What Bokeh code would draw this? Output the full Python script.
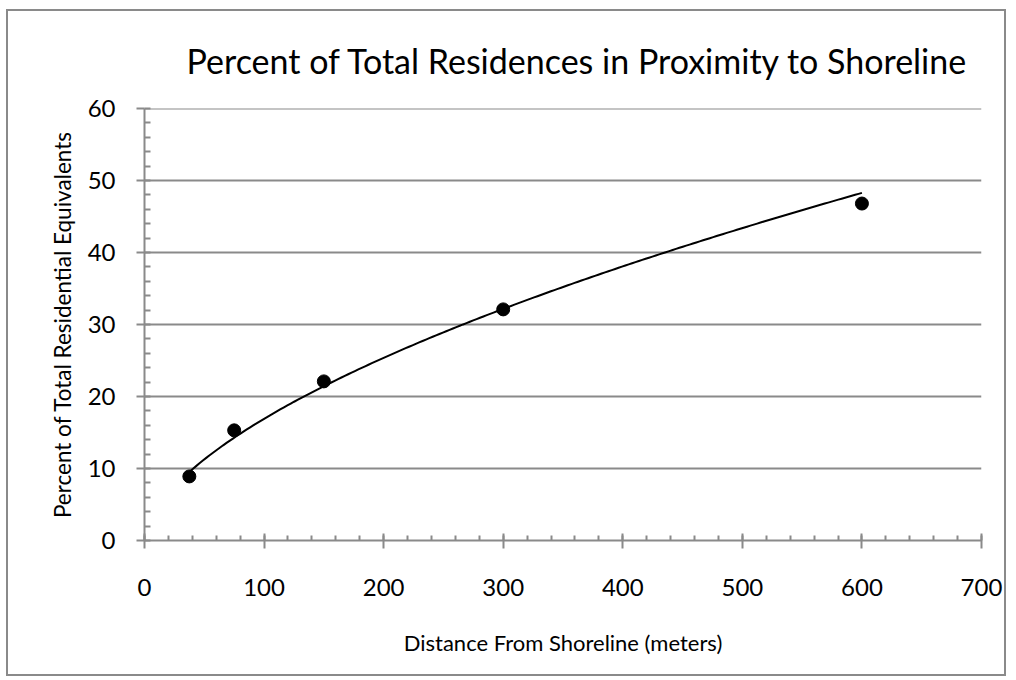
import numpy as np
from bokeh.plotting import figure
from bokeh.models import Range1d, SingleIntervalTicker, Title, Span
from bokeh.embed import file_html
from bokeh.resources import INLINE

distance_m = [37.5, 75, 150, 300, 600]
percent_res = [8.9, 15.3, 22.1, 32.1, 46.8]
y_ticks = [0, 10, 20, 30, 40, 50, 60]

title_text = "Percent of Total Residences in Proximity to Shoreline"
x_label = "Distance From Shoreline (meters)"
y_label = "Percent of Total Residential Equivalents"

# power-law trendline fitted to the data (y = a * x^b)
b, ln_a = np.polyfit(np.log(distance_m), np.log(percent_res), 1)
trend_x = np.linspace(min(distance_m), max(distance_m), 200)
trend_y = np.exp(ln_a) * trend_x ** b

FONT = "Lato"
GRAY = "#8a8a8a"

p = figure(width=1000, height=667, output_backend="svg", toolbar_location=None,
           x_range=Range1d(0, 700), y_range=Range1d(y_ticks[0], y_ticks[-1]),
           min_border_left=136, min_border_right=27, min_border_top=97, min_border_bottom=138)
p.styles = {"border": "2px solid #8a8a8a",
            "margin-left": "6px", "margin-top": "9px"}

t = Title(text=title_text, text_font=FONT, text_font_size="34px", text_font_style="normal",
          text_color="#000000", align="left", offset=42, standoff=52, vertical_align="top")
p.add_layout(t, "above")

p.outline_line_color = None
p.background_fill_color = "white"
p.border_fill_color = "white"

p.xgrid.grid_line_color = None
p.ygrid.grid_line_color = GRAY
p.ygrid.grid_line_width = 2
# top gridline at the end of the range
p.add_layout(Span(location=y_ticks[-1], dimension="width", line_color=GRAY, line_width=2))

xa = p.xaxis[0]
xa.ticker = SingleIntervalTicker(interval=100, num_minor_ticks=5)
xa.axis_line_color = GRAY
xa.axis_line_width = 2
xa.major_tick_line_color = GRAY
xa.major_tick_line_width = 2
xa.major_tick_in = 7
xa.major_tick_out = 8
xa.minor_tick_line_color = GRAY
xa.minor_tick_line_width = 2
xa.minor_tick_in = 5
xa.minor_tick_out = 0
xa.major_label_standoff = 30
xa.major_label_text_font = FONT
xa.major_label_text_font_size = "24px"
xa.major_label_text_color = "#000000"
xa.axis_label = x_label
xa.axis_label_text_font = FONT
xa.axis_label_text_font_size = "22px"
xa.axis_label_text_font_style = "normal"
xa.axis_label_text_color = "#000000"
xa.axis_label_standoff = 30

ya = p.yaxis[0]
ya.ticker = SingleIntervalTicker(interval=10, num_minor_ticks=5)
ya.axis_line_color = GRAY
ya.axis_line_width = 2
ya.major_tick_line_color = GRAY
ya.major_tick_line_width = 2
ya.major_tick_in = 0
ya.major_tick_out = 8
ya.minor_tick_line_color = GRAY
ya.minor_tick_line_width = 2
ya.minor_tick_in = 6
ya.minor_tick_out = 0
ya.major_label_standoff = 21
ya.major_label_text_font = FONT
ya.major_label_text_font_size = "24px"
ya.major_label_text_color = "#000000"
ya.axis_label = y_label
ya.axis_label_text_font = FONT
ya.axis_label_text_font_size = "22.5px"
ya.axis_label_text_font_style = "normal"
ya.axis_label_text_color = "#000000"
ya.axis_label_standoff = 9

p.line(trend_x, trend_y, line_color="black", line_width=2)
p.scatter(distance_m, percent_res, size=13, fill_color="black", line_color="black")

open("out.html", "w").write(file_html(p, INLINE))
